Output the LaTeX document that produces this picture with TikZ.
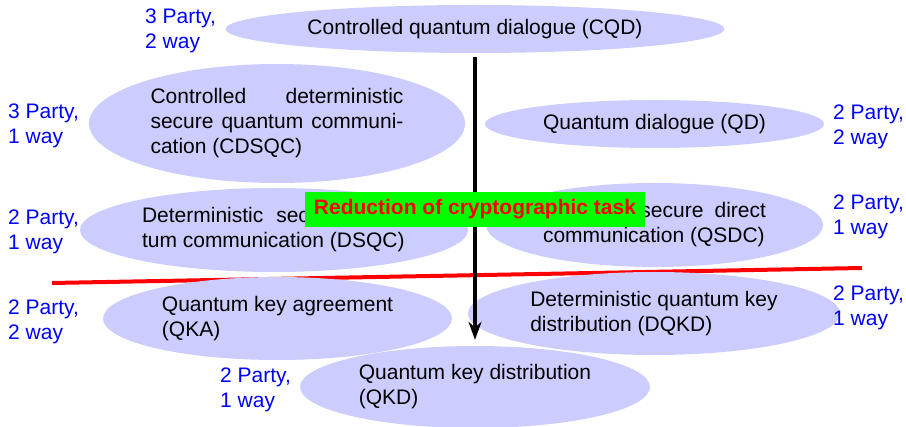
\documentclass[tikz,border=0pt]{standalone}
\usepackage{fontspec}
\setmainfont{Liberation Sans}
\usetikzlibrary{shapes.geometric,arrows.meta}
\definecolor{bubble}{RGB}{204,204,255}
\begin{document}
\begin{tikzpicture}[x=1pt,y=-1pt,
  every node/.style={font=\fontsize{21}{25}\selectfont, inner sep=0pt},
  task/.style={ellipse, fill=bubble, align=left},
  party/.style={text=blue, anchor=west, align=left},
  divider/.style={red, line width=4pt},
  reduce/.style={-{Stealth[length=18pt,width=13pt]}, line width=3.5pt},
  banner/.style={fill=green, text=red, font=\fontsize{21}{25}\selectfont\bfseries,
    minimum width=340pt, minimum height=35pt}
]
\useasboundingbox (0,0) rectangle (906,427);

% separating line, drawn first so the lower bubbles overlap it
\coordinate (sepL) at (52,283);
\coordinate (sepR) at (862,268);
\draw[divider] (sepL) -- (sepR);

% the tasks
\node[task, minimum width=499pt, minimum height=48pt] (cqd) at (475,29)
  {Controlled quantum dialogue (CQD)};
\node[task, minimum width=376pt, minimum height=119pt] (cdsqc) at (277,123.5)
  {\makebox[253pt][l]{Controlled\hfill deterministic}\\
   \makebox[253pt][l]{secure\hfill{} quantum\hfill{} communi-}\\
   cation (CDSQC)};
\node[task, minimum width=339pt, minimum height=48pt] (qd) at (654.5,124)
  {Quantum dialogue (QD)};
\node[task, minimum width=388pt, minimum height=84pt] (dsqc) at (274,230)
  {\makebox[264pt][l]{Deterministic\hfill{} secure\hfill{} quan-}\\
   tum communication (DSQC)};
\node[task, minimum width=337pt, minimum height=84pt] (qsdc) at (654.5,225)
  {\makebox[223pt][l]{Quantum\hfill{} secure\hfill{} direct}\\
   communication (QSDC)};
\node[task, minimum width=349pt, minimum height=83pt] (qka) at (277.5,318.5)
  {Quantum key agreement\\(QKA)};
\node[task, minimum width=372pt, minimum height=83pt] (dqkd) at (654,313.5)
  {Deterministic quantum key\\distribution (DQKD)};
\node[task, minimum width=350pt, minimum height=82pt] (qkd) at (475,387)
  {Quantum key distribution\\(QKD)};

% number of parties and directions
\node[party] (p1) at (145,31) {3 Party,\\2 way};
\node[party] (p2) at (8,126) {3 Party,\\1 way};
\node[party] (p3) at (833,126.5) {2 Party,\\2 way};
\node[party] (p4) at (8,232) {2 Party,\\1 way};
\node[party] (p5) at (833,217) {2 Party,\\1 way};
\node[party] (p6) at (8,322) {2 Party,\\2 way};
\node[party] (p7) at (833,308) {2 Party,\\1 way};
\node[party] (p8) at (220,390) {2 Party,\\1 way};

% reduction arrow and its banner
\draw[reduce, shorten <=4pt, shorten >=6pt] (cqd.south) -- (qkd.north);
\node[banner] (red) at (475,209.5) {Reduction of cryptographic task};
\end{tikzpicture}
\end{document}
